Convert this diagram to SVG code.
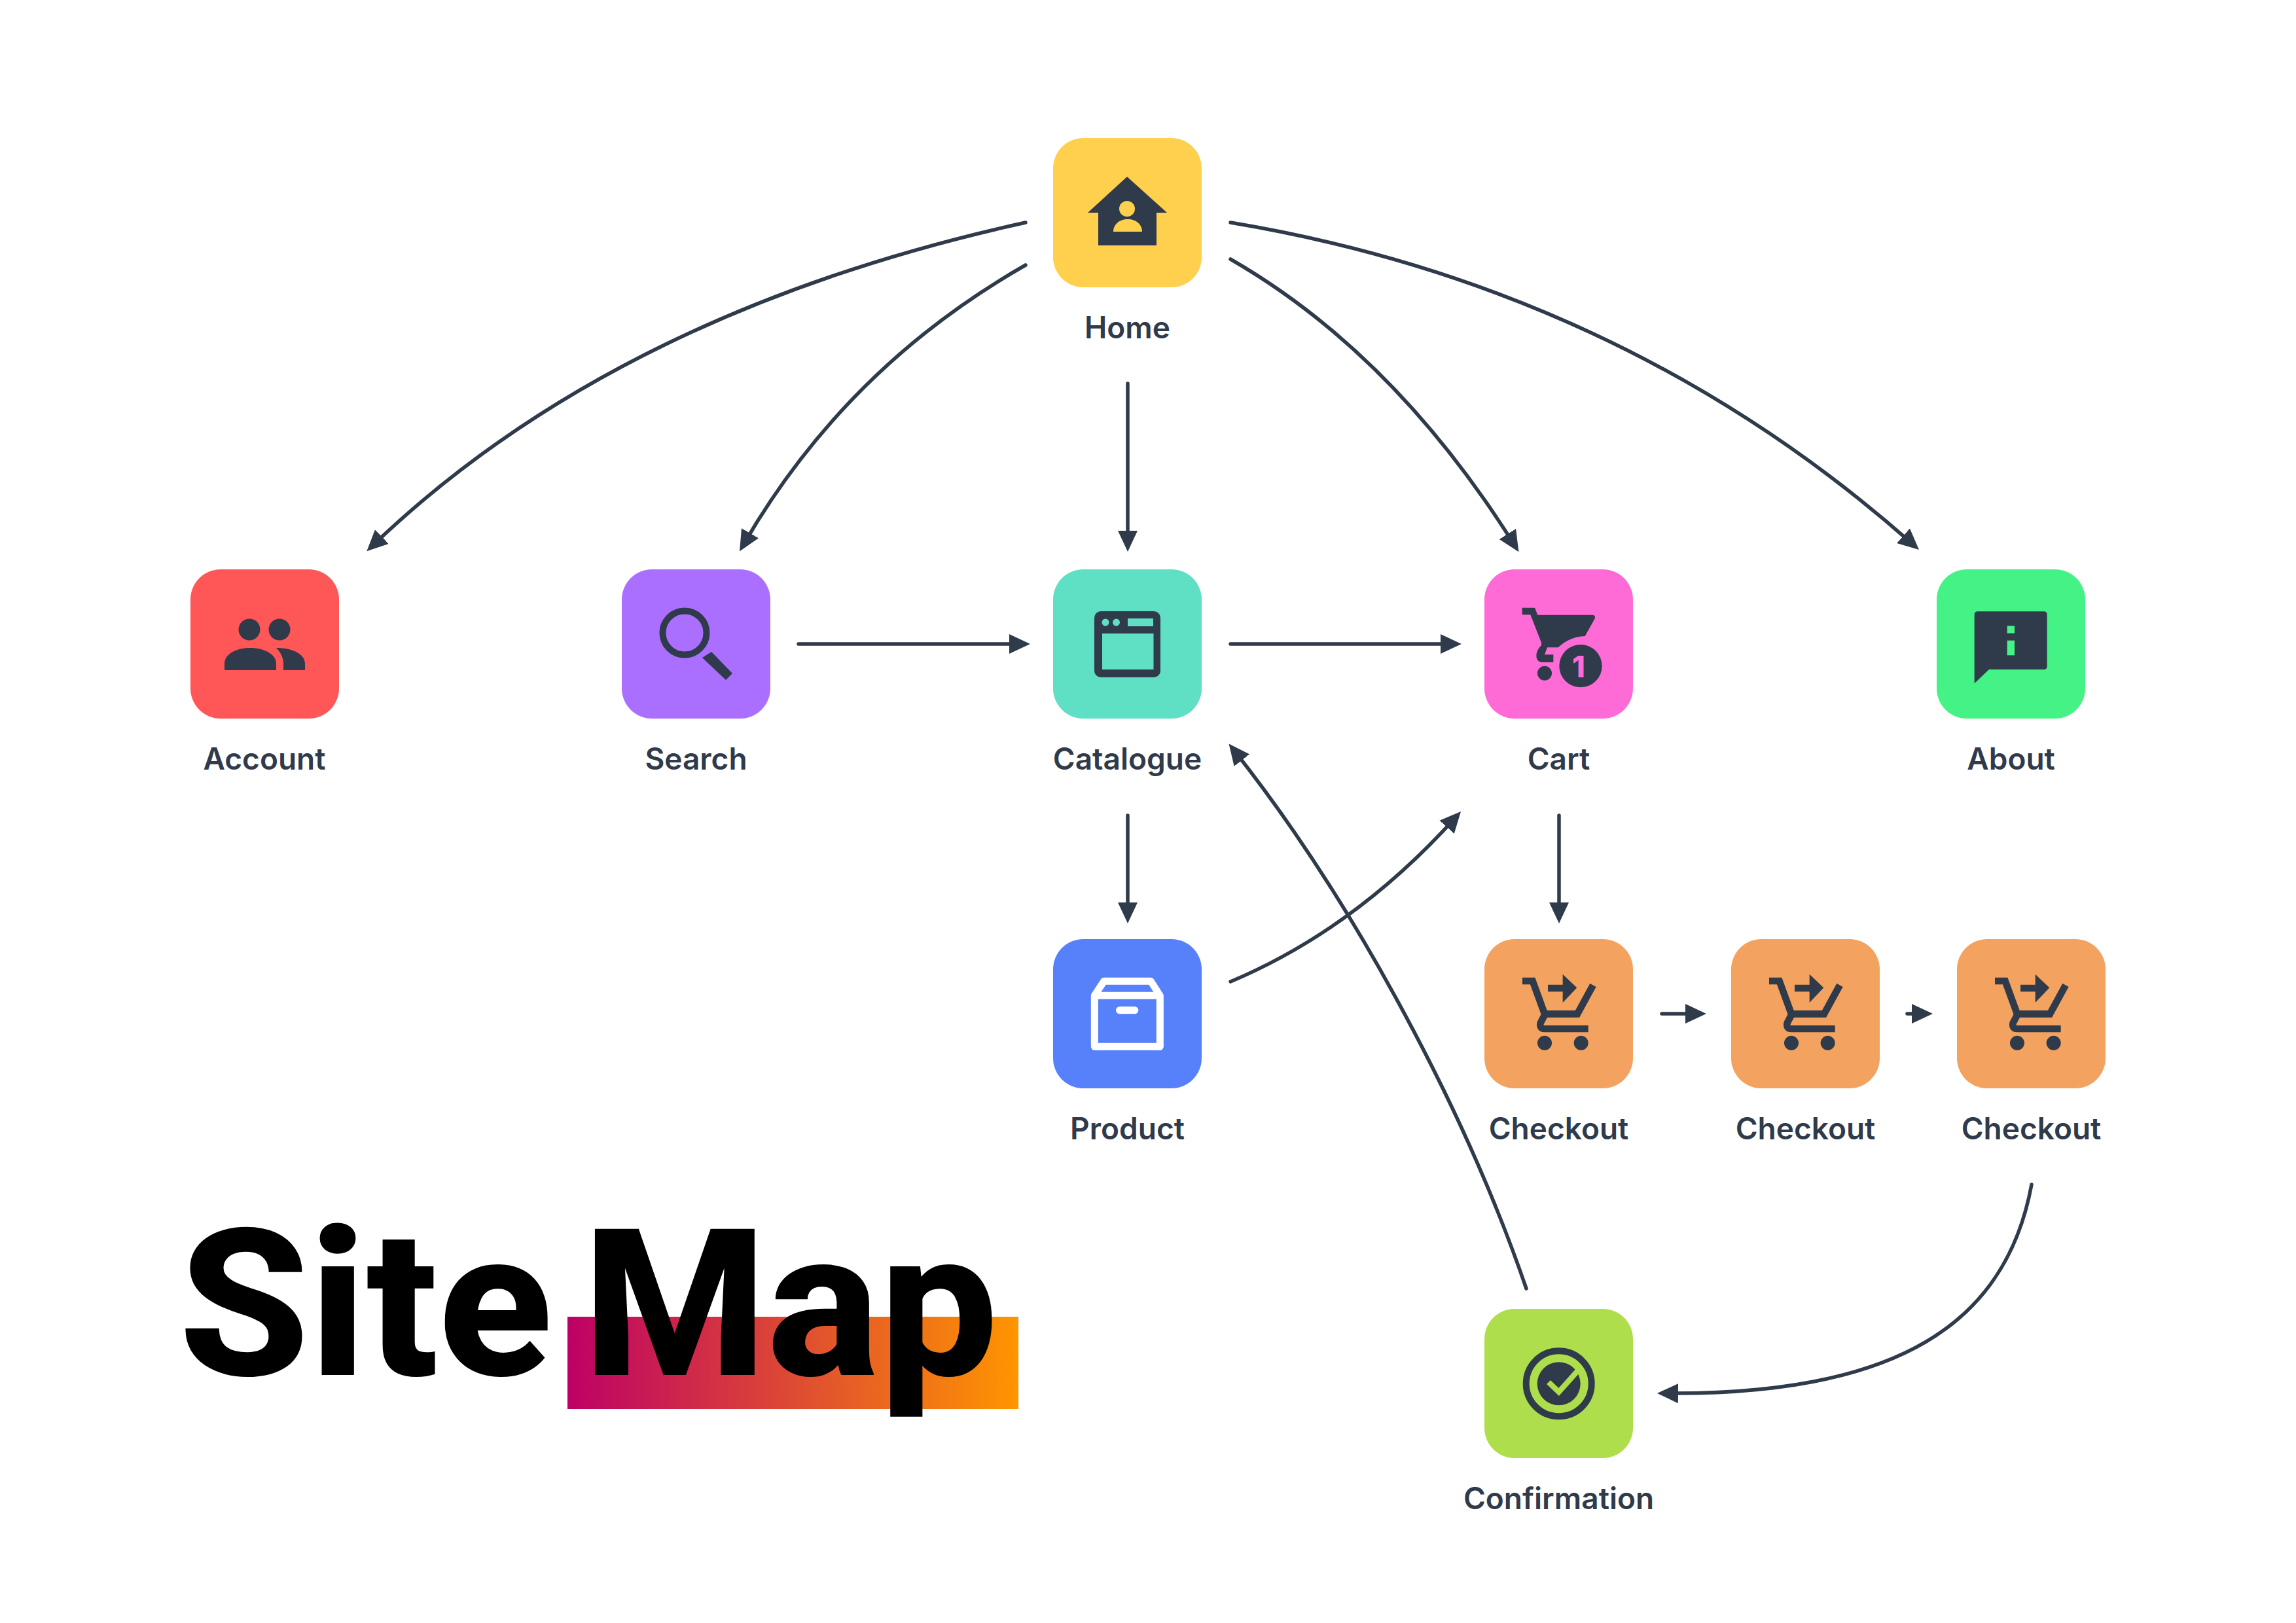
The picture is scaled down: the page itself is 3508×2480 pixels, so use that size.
<svg xmlns="http://www.w3.org/2000/svg" width="3508" height="2480" viewBox="0 0 3508 2480">
<style>
.box{rx:46px;ry:46px}
.lbl{font-family:Inter,"Liberation Sans",sans-serif;font-weight:600;font-size:46px;fill:#2f3a4a;text-anchor:middle}
.ttl{font-family:Roboto,"Liberation Sans",sans-serif;font-weight:800;font-size:314px;fill:#000}
.dk{fill:#2f3a4a}
.edge{fill:none;stroke:#2f3a4a;stroke-width:5.500;stroke-linecap:round;marker-end:url(#arr)}
</style>
<defs>
<marker id="arr" markerUnits="userSpaceOnUse" markerWidth="34" markerHeight="34" viewBox="0 0 34 34" refX="20" refY="17" orient="auto"><path d="M0 2 L32 17 L0 32 Z" fill="#2f3a4a"/></marker>
<linearGradient id="grad" x1="0" y1="0" x2="1" y2="0"><stop offset="0" stop-color="#bd0066"/><stop offset="1" stop-color="#ff9500"/></linearGradient>
<g id="checkoutIcon" transform="scale(.33333)">
<path d="M48 66 H95 L150 217 H300 L372 85" fill="none" stroke="#2f3a4a" stroke-width="32"/>
<path d="M150 222 L131 258 Q125 285 150 285 H350" fill="none" stroke="#2f3a4a" stroke-width="32"/>
<path d="M165 83 H233 V35 L298 97 L233 165 V115 H165 Z" fill="#2f3a4a"/>
<circle cx="150" cy="350" r="33" fill="#2f3a4a"/><circle cx="317" cy="350" r="33" fill="#2f3a4a"/>
</g>
</defs>
<rect width="3508" height="2480" fill="#fff"/>
<g id="title">
<rect x="867" y="2012" width="689" height="141" fill="url(#grad)"/>
<text class="ttl" x="273" y="2101" textLength="571" lengthAdjust="spacingAndGlyphs">Site</text>
<text class="ttl" x="890" y="2101" textLength="635" lengthAdjust="spacingAndGlyphs">Map</text>
</g>
<g id="connectors">
<path class="edge" d="M1567 340 Q940 478 569 834"/>
<path class="edge" d="M1567 405 Q1292 562 1136 832"/>
<path class="edge" d="M1723 586 V831"/>
<path class="edge" d="M1880 396 Q2130 540 2314 833"/>
<path class="edge" d="M1880 340 Q2480 440 2923 832"/>
<path class="edge" d="M1220 984 H1562"/>
<path class="edge" d="M1880 984 H2221"/>
<path class="edge" d="M1723 1246 V1399"/>
<path class="edge" d="M2382 1246 V1399"/>
<path class="edge" d="M1880 1500 Q2070 1420 2224 1249"/>
<path class="edge" d="M2332 1969 C2240 1700 2070 1380 1885 1146"/>
<path class="edge" d="M2539 1549 H2595"/>
<path class="edge" d="M2914 1549 H2941"/>
<path class="edge" d="M3104 1810 C3065 2022 2900 2132 2544 2129"/>
</g>
<g id="home" transform="translate(0 2)">
<rect class="box" x="1609" y="209" width="227" height="228" fill="#ffd04d"/>
<path class="dk" d="M1722 268 L1783 323 H1767 V373 H1678 V323 H1662 Z"/>
<circle cx="1722" cy="317" r="12" fill="#ffd04d"/>
<path d="M1701 352 C1701 341 1710 333 1723 333 C1736 333 1745 341 1745 352 Z" fill="#ffd04d"/>
<text class="lbl" x="1722.5" y="515">Home</text>
</g>
<g id="account" transform="translate(0 2)">
<rect class="box" x="291" y="868" width="227" height="228" fill="#ff5757"/>
<circle class="dk" cx="381" cy="960" r="16.5"/><circle class="dk" cx="427" cy="960" r="16.5"/>
<path class="dk" d="M343 1022 V1012 C343 998 360 988 382 988 C404 988 422 998 422 1012 V1022 Z"/>
<path class="dk" d="M422 988 C448 988 466 998 466 1012 V1022 H433 V1012 C433 1002 428 994 422 988 Z"/>
<text class="lbl" x="404" y="1174">Account</text>
</g>
<g id="search" transform="translate(0 2)">
<rect class="box" x="950" y="868" width="227" height="228" fill="#ab6fff"/>
<circle cx="1046" cy="965" r="33.5" fill="none" stroke="#2f3a4a" stroke-width="10"/>
<path class="dk" d="M1073 1003 L1087 994 L1119 1027 L1109 1037 Z"/>
<text class="lbl" x="1063.5" y="1174">Search</text>
</g>
<g id="catalogue" transform="translate(0 2)">
<rect class="box" x="1609" y="868" width="227" height="228" fill="#5fdfc4"/>
<rect class="dk" x="1672" y="932" width="101" height="101" rx="10"/>
<rect x="1684" y="966" width="78.500" height="55" fill="#5fdfc4"/>
<circle cx="1689" cy="949" r="5.500" fill="#5fdfc4"/><circle cx="1705.500" cy="949" r="5.500" fill="#5fdfc4"/>
<rect x="1723" y="943" width="39" height="12" fill="#5fdfc4"/>
<text class="lbl" x="1722.5" y="1174">Catalogue</text>
</g>
<g id="cart" transform="translate(0 2)">
<rect class="box" x="2268" y="868" width="227" height="228" fill="#ff6bd6"/>
<g transform="translate(2310 910) scale(.33333)">
<path class="dk" d="M47 50 H105 L118 83 H370 Q385 85 380 100 L335 180 Q265 182 212 232 H162 L150 265 H190 V300 H135 Q112 295 112 270 Q112 245 135 222 V210 L85 82 H47 Z"/>
<circle class="dk" cx="150" cy="350" r="33"/>
<circle class="dk" cx="315" cy="317" r="98"/>
</g>
<text x="2412" y="1033" font-family="Inter,'Liberation Sans',sans-serif" font-weight="800" font-size="45" fill="#ff6bd6" text-anchor="middle">1</text>
<text class="lbl" x="2381.5" y="1174">Cart</text>
</g>
<g id="about" transform="translate(0 2)">
<rect class="box" x="2959" y="868" width="227" height="228" fill="#45f285"/>
<g transform="translate(2900 840) scale(.33333)">
<path class="dk" d="M350 292 Q350 277 365 277 H668 Q683 277 683 292 V528 Q683 543 668 543 H417 L350 607 Z"/>
<rect x="500" y="343" width="34" height="34" fill="#45f285"/><rect x="500" y="410" width="34" height="68" fill="#45f285"/>
</g>
<text class="lbl" x="3072.5" y="1174">About</text>
</g>
<g id="product" transform="translate(0 2)">
<rect class="box" x="1609" y="1433" width="227" height="228" fill="#5781fa"/>
<g transform="translate(1650 1475) scale(.33333)">
<path d="M67 133 L110 67 H325 L367 133 V367 H67 Z M67 133 H367" fill="none" stroke="#fff" stroke-width="33" stroke-linejoin="round"/>
<rect x="165" y="183" width="103" height="34" rx="17" fill="#fff"/>
</g>
<text class="lbl" x="1722.5" y="1739">Product</text>
</g>
<g id="checkout1" transform="translate(0 2)">
<rect class="box" x="2268" y="1433" width="227" height="228" fill="#f3a35f"/>
<use href="#checkoutIcon" transform="translate(2310 1475)"/>
<text class="lbl" x="2381.5" y="1739">Checkout</text>
</g>
<g id="checkout2" transform="translate(0 2)">
<rect class="box" x="2645" y="1433" width="227" height="228" fill="#f3a35f"/>
<use href="#checkoutIcon" transform="translate(2687 1475)"/>
<text class="lbl" x="2758.5" y="1739">Checkout</text>
</g>
<g id="checkout3" transform="translate(0 2)">
<rect class="box" x="2990" y="1433" width="227" height="228" fill="#f3a35f"/>
<use href="#checkoutIcon" transform="translate(3032 1475)"/>
<text class="lbl" x="3103.5" y="1739">Checkout</text>
</g>
<g id="confirmation" transform="translate(0 2)">
<rect class="box" x="2268" y="1998" width="227" height="228" fill="#aede4b"/>
<circle cx="2381.700" cy="2112.300" r="50" fill="none" stroke="#2f3a4a" stroke-width="10"/>
<circle class="dk" cx="2381.700" cy="2112.300" r="33"/>
<path d="M2366 2110 L2381.700 2125 L2412 2091" fill="none" stroke="#aede4b" stroke-width="8.500"/>
<text class="lbl" x="2381.5" y="2304">Confirmation</text>
</g>
</svg>
